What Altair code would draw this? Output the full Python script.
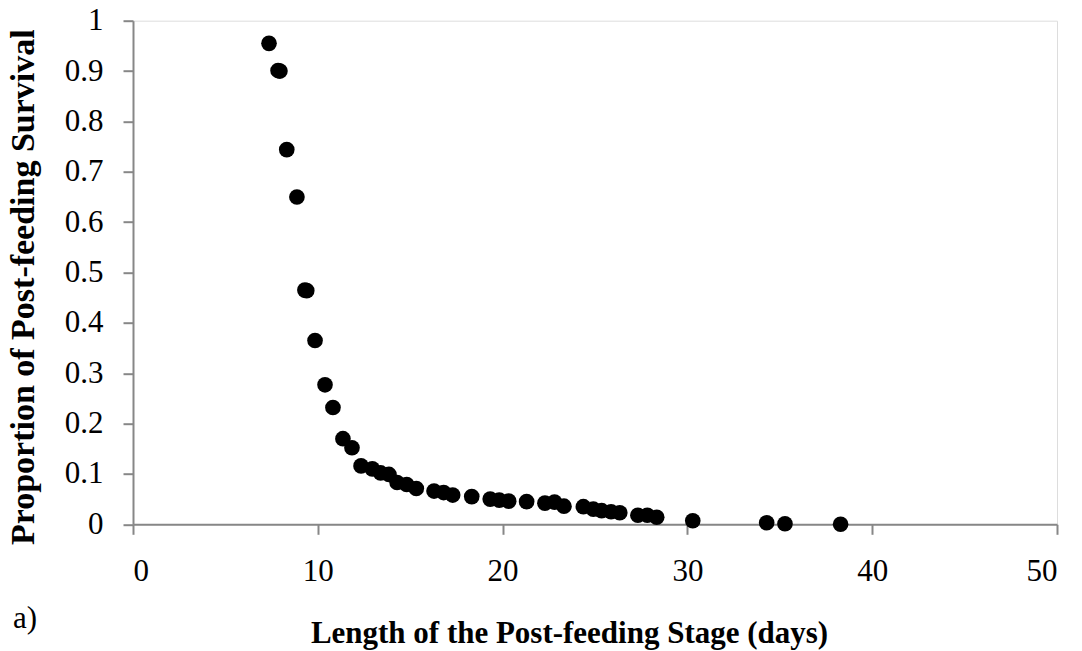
import altair as alt
import pandas as pd

# Length of the post-feeding stage (days)
days = [7.36, 7.85, 7.95, 8.32, 8.87, 9.30, 9.40, 9.85, 10.39, 10.82, 11.36, 11.85,
        12.34, 12.95, 13.40, 13.85, 14.29, 14.81, 15.33, 16.29, 16.81, 17.30,
        18.33, 19.33, 19.82, 20.33, 21.30, 22.29, 22.81, 23.32, 24.37, 24.91,
        25.36, 25.87, 26.34, 27.32, 27.83, 28.34, 30.29, 34.29, 35.28, 38.29]
# Proportion of post-feeding survival
survival = [0.955, 0.901, 0.900, 0.744, 0.650, 0.465, 0.464, 0.365, 0.277, 0.232, 0.170, 0.152,
            0.116, 0.110, 0.102, 0.099, 0.083, 0.079, 0.071, 0.066, 0.063, 0.058,
            0.055, 0.050, 0.048, 0.046, 0.045, 0.042, 0.044, 0.036, 0.035, 0.030,
            0.027, 0.025, 0.023, 0.018, 0.018, 0.014, 0.007, 0.003, 0.001, 0.000]

x_ticks = [0, 10, 20, 30, 40, 50]
y_ticks = [0, 0.1, 0.2, 0.3, 0.4, 0.5, 0.6, 0.7, 0.8, 0.9, 1.0]
panel_label = ["a)"]

df = pd.DataFrame({"days": days, "survival": survival})
FONT = "Liberation Serif"
GREY = "#878787"

points = alt.Chart(df).mark_circle(size=245, color="black", opacity=1).encode(
    x=alt.X("days:Q",
            scale=alt.Scale(domain=[0, 50], nice=False, zero=True),
            axis=alt.Axis(values=x_ticks, title="Length of the Post-feeding Stage (days)",
                          grid=False, domainColor=GREY, domainWidth=2, tickColor=GREY,
                          tickWidth=2, tickSize=10, labelFont=FONT, labelFontSize=31,
                          labelColor="black", labelPadding=22, titleFont=FONT,
                          titleFontSize=31, titleFontWeight="bold", titleColor="black",
                          titleX=436, titleY=118, titleBaseline="alphabetic")),
    y=alt.Y("survival:Q",
            scale=alt.Scale(domain=[0, 1], nice=False),
            axis=alt.Axis(values=y_ticks, format="~g",
                          title="Proportion of Post-feeding Survival",
                          grid=False, domainColor=GREY, domainWidth=2, tickColor=GREY,
                          tickWidth=2, tickSize=10, labelFont=FONT, labelFontSize=31,
                          labelColor="black", labelPadding=20, titleFont=FONT,
                          titleFontSize=34, titleFontWeight="bold", titleColor="black",
                          titleX=-100, titleY=266, titleAngle=270,
                          titleBaseline="alphabetic")),
)

label = alt.Chart(pd.DataFrame({"t": panel_label})).mark_text(
    font=FONT, fontSize=31, color="black", align="left", baseline="alphabetic"
).encode(text="t:N", x=alt.value(-120), y=alt.value(607))

chart = alt.layer(points, label).properties(
    width=924, height=503.6,
    autosize=alt.AutoSizeParams(type="none"),
    padding={"left": 125, "top": 12.7, "right": 10, "bottom": 130},
).configure_view(stroke=None).configure(background="white")

chart.save("out.html", embed_options={"renderer": "svg", "actions": False})
